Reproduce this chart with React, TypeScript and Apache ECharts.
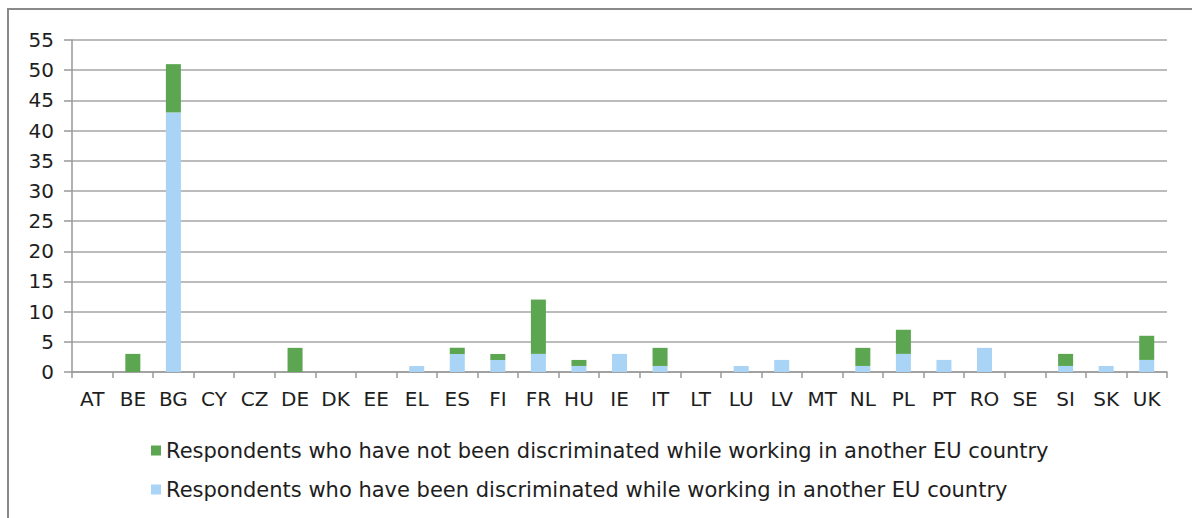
import React, { useEffect, useRef } from "react";
import * as echarts from "echarts";

const categories = ["AT","BE","BG","CY","CZ","DE","DK","EE","EL","ES","FI","FR","HU","IE","IT","LT","LU","LV","MT","NL","PL","PT","RO","SE","SI","SK","UK"];
const discriminated = [0,0,43,0,0,0,0,0,1,3,2,3,1,3,1,0,1,2,0,1,3,2,4,0,1,1,2];
const notDiscriminated = [0,3,8,0,0,4,0,0,0,1,1,9,1,0,3,0,0,0,0,3,4,0,0,0,2,0,4];
const seriesNames = [
  "Respondents who have not been discriminated while working in another EU country",
  "Respondents who have been discriminated while working in another EU country",
];
const yTicks = { min: 0, max: 55, interval: 5 };

export default function App() {
  const ref = useRef<HTMLDivElement>(null);
  useEffect(() => {
    if (!ref.current) return;
    const chart = echarts.init(ref.current, undefined, { renderer: "svg" });
    const font = "DejaVu Sans, Verdana, sans-serif";
    chart.setOption({
      animation: false,
      backgroundColor: "#ffffff",
      textStyle: { fontFamily: font },
      graphic: [
        {
          type: "rect",
          shape: { x: 8, y: 9, width: 1220, height: 600 },
          style: { fill: "none", stroke: "#8a8a8a", lineWidth: 2 },
          silent: true,
        },
      ],
      grid: { left: 72, right: 25, top: 40, bottom: 146, containLabel: false },
      legend: {
        orient: "vertical",
        left: 146,
        top: 435,
        itemGap: 18,
        itemWidth: 10,
        itemHeight: 10,
        icon: "rect",
        data: [seriesNames[0], seriesNames[1]],
        textStyle: { fontFamily: font, fontSize: 21, color: "#1e1e1e" },
      },
      xAxis: {
        type: "category",
        data: categories,
        axisLine: { lineStyle: { color: "#999", width: 1.5 } },
        axisTick: { show: true, length: 6, lineStyle: { color: "#999", width: 1.5 } },
        axisLabel: { fontFamily: font, fontSize: 20, color: "#1e1e1e", margin: 17, interval: 0 },
      },
      yAxis: {
        type: "value",
        min: yTicks.min,
        max: yTicks.max,
        interval: yTicks.interval,
        axisLine: { show: true, lineStyle: { color: "#999", width: 1.5 } },
        axisTick: { show: true, length: 8, lineStyle: { color: "#999", width: 1.5 } },
        axisLabel: { fontFamily: font, fontSize: 20, color: "#1e1e1e", margin: 18 },
        splitLine: { show: true, lineStyle: { color: "#a6a6a6", width: 1.5 } },
      },
      series: [
        {
          name: seriesNames[1],
          type: "bar",
          stack: "total",
          data: discriminated,
          barWidth: "37%",
          itemStyle: { color: "#a9d4f5" },
        },
        {
          name: seriesNames[0],
          type: "bar",
          stack: "total",
          data: notDiscriminated,
          barWidth: "37%",
          itemStyle: { color: "#5ca652" },
        },
      ],
    });
    return () => chart.dispose();
  }, []);
  return (
    <div
      ref={ref}
      style={{ position: "fixed", left: 0, top: 0, width: 1192, height: 518 }}
    />
  );
}
